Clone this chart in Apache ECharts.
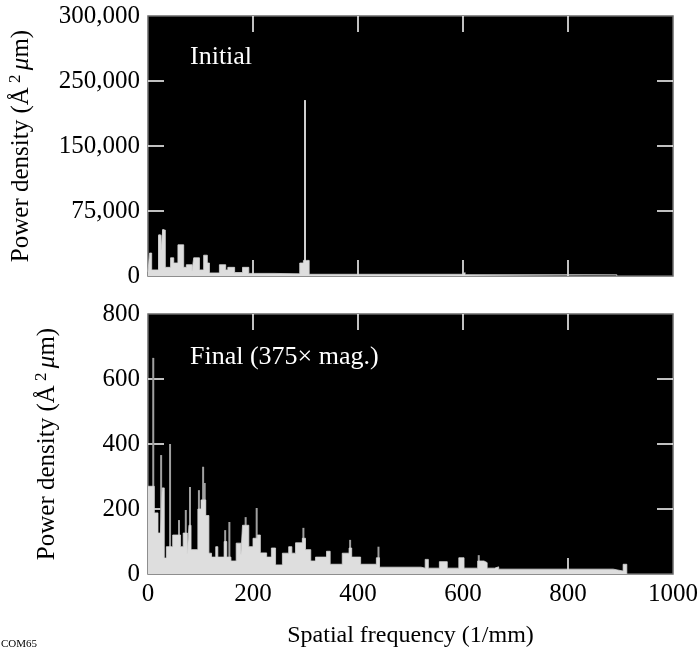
<!DOCTYPE html>
<html>
<head>
<meta charset="utf-8">
<script src="https://cdn.jsdelivr.net/npm/echarts@6/dist/echarts.min.js"></script>
<style>
  html, body { margin: 0; padding: 0; background: #fff; }
  #chart { width: 699px; height: 650px; }
</style>
</head>
<body>
<div id="chart"></div>
<script>
// 频率 (1/mm) 与功率密度，阶梯数据：每个值保持到下一个频率点
const initialFreq = [0, 3, 7, 20, 25, 28, 33, 43, 49, 57, 68, 73, 84, 87, 98, 106, 113, 117, 136, 148, 152, 165, 180, 192, 240, 289, 296, 302, 307, 600, 604, 893];
const initialPower = [5000, 26500, 7000, 47000, 30000, 53000, 10000, 21000, 15000, 36000, 10000, 13000, 6000, 21000, 7000, 24000, 15000, 3500, 13000, 7000, 10000, 4000, 10000, 3000, 2500, 15000, 18000, 18000, 2000, 4000, 1500, 0];
const initialSpikeFreq = [22, 29, 299];
const initialSpikeVal = [48000, 54000, 203000];

const finalFreq = [0, 12, 19, 24, 27, 31, 35, 47, 58, 62, 67, 75, 78, 82, 95, 101, 110, 116, 121, 129, 133, 145, 150, 158, 168, 177, 180, 192, 200, 208, 214, 226, 235, 243, 256, 268, 274, 281, 294, 300, 310, 319, 340, 347, 370, 383, 388, 405, 435, 441, 520, 528, 534, 555, 570, 592, 602, 628, 640, 646, 660, 668, 886, 905, 912];
const finalPower = [270, 188, 126, 126, 265, 49, 84, 120, 120, 84, 126, 64, 150, 75, 200, 228, 180, 64, 52, 84, 52, 100, 52, 40, 95, 60, 150, 84, 110, 120, 65, 52, 80, 28, 64, 84, 64, 96, 110, 75, 40, 52, 70, 30, 64, 80, 52, 30, 50, 21, 18, 45, 18, 38, 18, 50, 18, 40, 35, 18, 22, 15, 9, 30, 0];
const finalSpikeFreq = [10, 25, 42, 59, 72, 80, 97, 105, 108, 147, 155, 186, 207, 296, 385, 439, 630];
const finalSpikeVal = [665, 366, 400, 166, 197, 268, 258, 330, 280, 135, 160, 175, 203, 142, 105, 84, 58];

const xTickLabels = ["0", "200", "400", "600", "800", "1000"];
const initialTickLabels = ["0", "75,000", "150,000", "250,000", "300,000"];
const finalTickLabels = ["0", "200", "400", "600", "800"];

const FONT = "Liberation Serif";
const chart = echarts.init(document.getElementById("chart"));

const tickStyle = { color: "#fff", width: 1.5 };

const makeX = (gridIndex, pos, showLabel) => ({
  type: "value",
  gridIndex,
  position: pos,
  min: 0,
  max: 1000,
  interval: 200,
  axisLine: { show: false, onZero: false },
  splitLine: { show: false },
  axisTick: { show: true, inside: true, length: 16, lineStyle: tickStyle, customValues: [200, 400, 600, 800] },
  axisLabel: {
    show: showLabel,
    color: "#000",
    fontFamily: FONT,
    fontSize: 25,
    margin: 8,
    formatter: (v) => xTickLabels[Math.round(v / 200)],
  },
});

const makeY = (gridIndex, pos, max, interval, labels, inner, name, gap) => ({
  type: "value",
  gridIndex,
  position: pos,
  min: 0,
  max,
  interval,
  name,
  nameLocation: "middle",
  nameRotate: 90,
  nameGap: gap,
  nameTextStyle: {
    color: "#000",
    fontFamily: FONT,
    fontSize: 25,
    rich: {
      a: { fontFamily: FONT, fontSize: 25, color: "#000" },
      sup: { fontFamily: FONT, fontSize: 17, color: "#000", padding: [0, 0, 12, 0] },
      it: { fontFamily: FONT, fontSize: 25, fontStyle: "italic", color: "#000" },
    },
  },
  axisLine: { show: false, onZero: false },
  splitLine: { show: false },
  axisTick: { show: true, inside: true, length: 16, lineStyle: tickStyle, customValues: inner },
  axisLabel: {
    show: !!labels,
    color: "#000",
    fontFamily: FONT,
    fontSize: 25,
    margin: 8,
    formatter: (v) => (labels ? labels[Math.round(v / interval)] : ""),
  },
});

const stepSeries = (idx, freq, power) => ({
  type: "line",
  xAxisIndex: idx,
  yAxisIndex: idx,
  step: "end",
  symbol: "none",
  z: 3,
  lineStyle: { width: 0.8, color: "#d6d6d6" },
  areaStyle: { color: "#dedede", opacity: 1 },
  data: freq.map((f, i) => [f, power[i]]),
});

const spikeSeries = (idx, freq, vals, color) => ({
  type: "bar",
  xAxisIndex: idx,
  yAxisIndex: idx,
  barWidth: 2,
  z: 2,
  itemStyle: { color },
  data: freq.map((f, i) => [f, vals[i]]),
});

const yName = "{a|Power density (Å}{sup| 2 }{it|μ}{a|m)}";

const gridBase = {
  left: 148,
  width: 525,
  height: 260,
  show: true,
  backgroundColor: "#000",
  borderColor: "#6a6a6a",
  borderWidth: 1.5,
  outerBoundsMode: "none",
  containLabel: false,
};

chart.setOption({
  animation: false,
  grid: [
    Object.assign({ top: 16 }, gridBase),
    Object.assign({ top: 314 }, gridBase),
  ],
  xAxis: [
    makeX(0, "bottom", false),
    Object.assign(makeX(1, "bottom", true), {
      name: "Spatial frequency (1/mm)",
      nameLocation: "middle",
      nameGap: 50,
      nameTextStyle: { color: "#000", fontFamily: FONT, fontSize: 24 },
    }),
    makeX(0, "top", false),
    makeX(1, "top", false),
  ],
  yAxis: [
    makeY(0, "left", 300000, 75000, initialTickLabels, [75000, 150000, 225000], yName, 112),
    makeY(1, "left", 800, 200, finalTickLabels, [200, 400, 600], yName, 86),
    makeY(0, "right", 300000, 75000, null, [75000, 150000, 225000], "", 0),
    makeY(1, "right", 800, 200, null, [200, 400, 600], "", 0),
  ],
  graphic: [
    { type: "text", left: 190, top: 44, style: { text: "Initial", fill: "#fff", font: "26px " + FONT } },
    { type: "text", left: 190, top: 344, style: { text: "Final (375× mag.)", fill: "#fff", font: "26px " + FONT } },
    { type: "text", left: 1, top: 639, style: { text: "COM65", fill: "#000", font: "11px " + FONT } },
  ],
  series: [
    spikeSeries(0, initialSpikeFreq, initialSpikeVal, "#cfcfcf"),
    stepSeries(0, initialFreq, initialPower),
    spikeSeries(1, finalSpikeFreq, finalSpikeVal, "#a0a0a0"),
    stepSeries(1, finalFreq, finalPower),
  ],
});
</script>
</body>
</html>
